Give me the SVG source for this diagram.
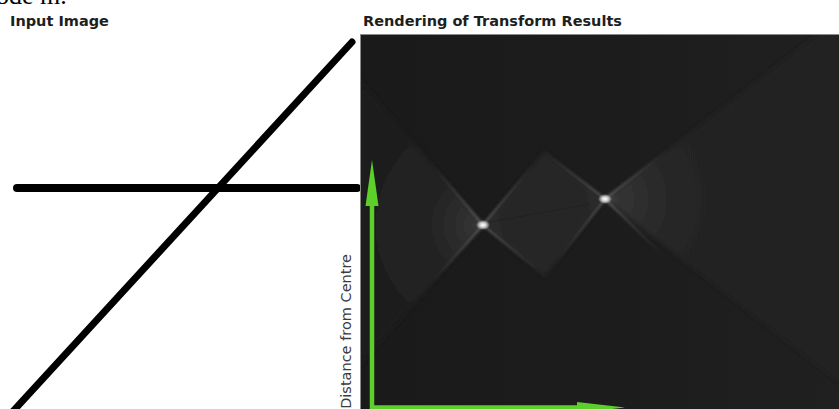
<svg xmlns="http://www.w3.org/2000/svg" width="839" height="409" viewBox="0 0 839 409">
  <style>
    .title { font-family: "DejaVu Sans", "Liberation Sans", sans-serif; font-weight: bold; font-size: 14.5px; fill: #1e1e1e; }
    .axis { font-family: "DejaVu Sans", "Liberation Sans", sans-serif; font-size: 14.5px; fill: #3c3c3c; }
    .ink { stroke: #000; stroke-linecap: round; fill: none; }
    .green { fill: #5ccf2a; }
    .gline { stroke: #5ccf2a; stroke-width: 4.5; fill: none; }
  </style>
  <defs>
    <clipPath id="panel">
      <rect x="361" y="35" width="478" height="374"/>
    </clipPath>
    <linearGradient id="bg" x1="0" y1="0" x2="1" y2="0">
      <stop offset="0" stop-color="#1a1a1a"/>
      <stop offset="0.5" stop-color="#1c1c1c"/>
      <stop offset="1" stop-color="#202020"/>
    </linearGradient>
    <radialGradient id="g1" gradientUnits="userSpaceOnUse" cx="483" cy="225" r="150">
      <stop offset="0" stop-color="#505050"/>
      <stop offset="0.06" stop-color="#333333"/>
      <stop offset="0.35" stop-color="#242424"/>
      <stop offset="1" stop-color="#1c1c1c"/>
    </radialGradient>
    <radialGradient id="g2" gradientUnits="userSpaceOnUse" cx="605" cy="199" r="260">
      <stop offset="0" stop-color="#505050"/>
      <stop offset="0.05" stop-color="#333333"/>
      <stop offset="0.3" stop-color="#252525"/>
      <stop offset="1" stop-color="#202020"/>
    </radialGradient>
    <linearGradient id="gd" gradientUnits="userSpaceOnUse" x1="483" y1="225" x2="605" y2="199">
      <stop offset="0" stop-color="#2e2e2e"/>
      <stop offset="0.2" stop-color="#262626"/>
      <stop offset="0.8" stop-color="#262626"/>
      <stop offset="1" stop-color="#2e2e2e"/>
    </linearGradient>
    <radialGradient id="spot">
      <stop offset="0" stop-color="#ffffff"/>
      <stop offset="0.35" stop-color="#dddddd"/>
      <stop offset="1" stop-color="#ffffff" stop-opacity="0"/>
    </radialGradient>
    <radialGradient id="streak1" gradientUnits="userSpaceOnUse" cx="483" cy="225" r="80">
      <stop offset="0" stop-color="#9a9a9a" stop-opacity="0.45"/>
      <stop offset="1" stop-color="#9a9a9a" stop-opacity="0"/>
    </radialGradient>
    <radialGradient id="streak2" gradientUnits="userSpaceOnUse" cx="605" cy="199" r="80">
      <stop offset="0" stop-color="#9a9a9a" stop-opacity="0.45"/>
      <stop offset="1" stop-color="#9a9a9a" stop-opacity="0"/>
    </radialGradient>
    <filter id="soft" x="-10%" y="-10%" width="120%" height="120%">
      <feGaussianBlur stdDeviation="2.5"/>
    </filter>
    <filter id="soft1" x="-10%" y="-10%" width="120%" height="120%">
      <feGaussianBlur stdDeviation="1.2"/>
    </filter>
  </defs>

  <rect width="839" height="409" fill="#ffffff"/>

  <text x="-4" y="4" font-family="Liberation Serif, serif" font-size="26" fill="#000">ode m.</text>

  <g id="input-image">
    <text class="title" x="10" y="26">Input Image</text>
    <line class="ink" x1="352" y1="42" x2="5" y2="420" stroke-width="7"/>
    <line class="ink" x1="17" y1="188" x2="357" y2="188" stroke-width="8"/>
  </g>

  <g id="transform-results">
    <text class="title" x="363" y="26">Rendering of Transform Results</text>
    <rect x="360.5" y="34.5" width="479" height="376" fill="url(#bg)" stroke="#8a8a8a" stroke-width="1"/>
    <g clip-path="url(#panel)">
      <g filter="url(#soft)">
        <polygon points="483,225 360,80 360,365" fill="url(#g1)"/>
        <polygon points="483,225 544,152 605,199 545,276" fill="url(#gd)"/>
        <polygon points="605,199 839,18 839,382" fill="url(#g2)"/>
      </g>
      <g stroke-width="2" fill="none" filter="url(#soft1)">
        <path d="M483,225 L411,140 M483,225 L411,305 M483,225 L544,152 M483,225 L545,276" stroke="url(#streak1)"/>
        <path d="M605,199 L544,152 M605,199 L545,276 M605,199 L680,141 M605,199 L670,262" stroke="url(#streak2)"/>
      </g>
      <line x1="490" y1="222" x2="590" y2="204" stroke="#1e1e1e" stroke-width="1" opacity="0.6"/>
      <ellipse cx="483" cy="225" rx="7" ry="5" fill="url(#spot)"/>
      <ellipse cx="605" cy="199" rx="7" ry="5" fill="url(#spot)"/>
    </g>
  </g>

  <g id="connectors">
    <line class="gline" x1="372" y1="411" x2="372" y2="200"/>
    <polygon class="green" points="372,160 378.5,206 365.5,206"/>
    <line class="gline" x1="370" y1="407.5" x2="580" y2="407.5"/>
    <polygon class="green" points="577,402 625,407.5 577,413"/>
  </g>

  <g id="axis-label">
    <text class="axis" transform="translate(351,254) rotate(-90)" text-anchor="end">Distance from Centre</text>
  </g>
</svg>
